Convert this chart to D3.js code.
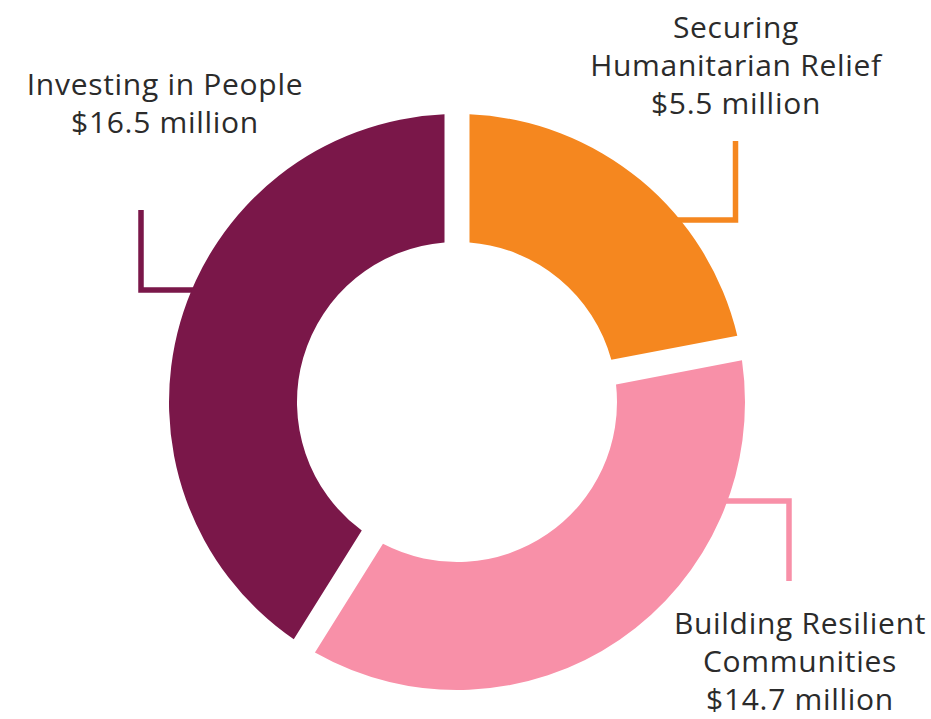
<!DOCTYPE html>
<html>
<head>
<meta charset="utf-8">
<script src="https://cdn.jsdelivr.net/npm/d3@7"></script>
<style>
  body { margin: 0; background: #fff; }
  text { font-family: "Open Sans", Lato, sans-serif; fill: #2b2b2b; }
</style>
</head>
<body>
<div id="chart"></div>
<script>
// data
const categories = ["Securing Humanitarian Relief", "Building Resilient Communities", "Investing in People"];
const amounts = [5.5, 14.7, 16.5];            // $ million, as labelled
const sliceShare = [22.0, 36.9, 41.1];        // share of the ring as drawn (%)
const labelLines = [
  ["Securing", "Humanitarian Relief"],
  ["Building Resilient", "Communities"],
  ["Investing in People"]
];
const colors = ["#f5871f", "#f890a8", "#7a1749"];

const width = 931, height = 719;
const cx = 457, cy = 402;
const outerR = 288, innerR = 160;
const gap = 25;

// label/leader placement (layout only)
const layout = [
  { tx: 736, ty: 38, leader: [[668, 220], [735.5, 220], [735.5, 141]] },
  { tx: 800, ty: 634, leader: [[705, 501], [789, 501], [789, 581]] },
  { tx: 165, ty: 95, leader: [[205, 290], [141, 290], [141, 210]] }
];

const data = categories.map((c, i) => ({
  name: c, amount: amounts[i], share: sliceShare[i], lines: labelLines[i], color: colors[i], pos: layout[i]
}));

const svg = d3.select("#chart")
  .append("svg")
  .attr("width", width)
  .attr("height", height);

// leader lines sit under the ring
svg.append("g")
  .selectAll("path")
  .data(data)
  .join("path")
  .attr("fill", "none")
  .attr("stroke", d => d.color)
  .attr("stroke-width", 5.5)
  .attr("d", d => d3.line()(d.pos.leader));

const pie = d3.pie().value(d => d.share).sort(null);
const arc = d3.arc()
  .innerRadius(innerR)
  .outerRadius(outerR)
  .padRadius(outerR)
  .padAngle(gap / outerR);

svg.append("g")
  .attr("transform", `translate(${cx},${cy})`)
  .selectAll("path")
  .data(pie(data))
  .join("path")
  .attr("fill", d => d.data.color)
  .attr("d", arc);

const lineH = 38;
const labels = svg.append("g")
  .selectAll("text")
  .data(data)
  .join("text")
  .attr("text-anchor", "middle")
  .attr("font-size", 30)
  .attr("letter-spacing", 0.7)
  .attr("x", d => d.pos.tx)
  .attr("y", d => d.pos.ty);

labels.each(function (d) {
  const t = d3.select(this);
  const all = d.lines.concat(["$" + d.amount + " million"]);
  all.forEach((s, i) => {
    t.append("tspan")
      .attr("x", d.pos.tx)
      .attr("dy", i === 0 ? 0 : lineH)
      .text(s);
  });
});
</script>
</body>
</html>
